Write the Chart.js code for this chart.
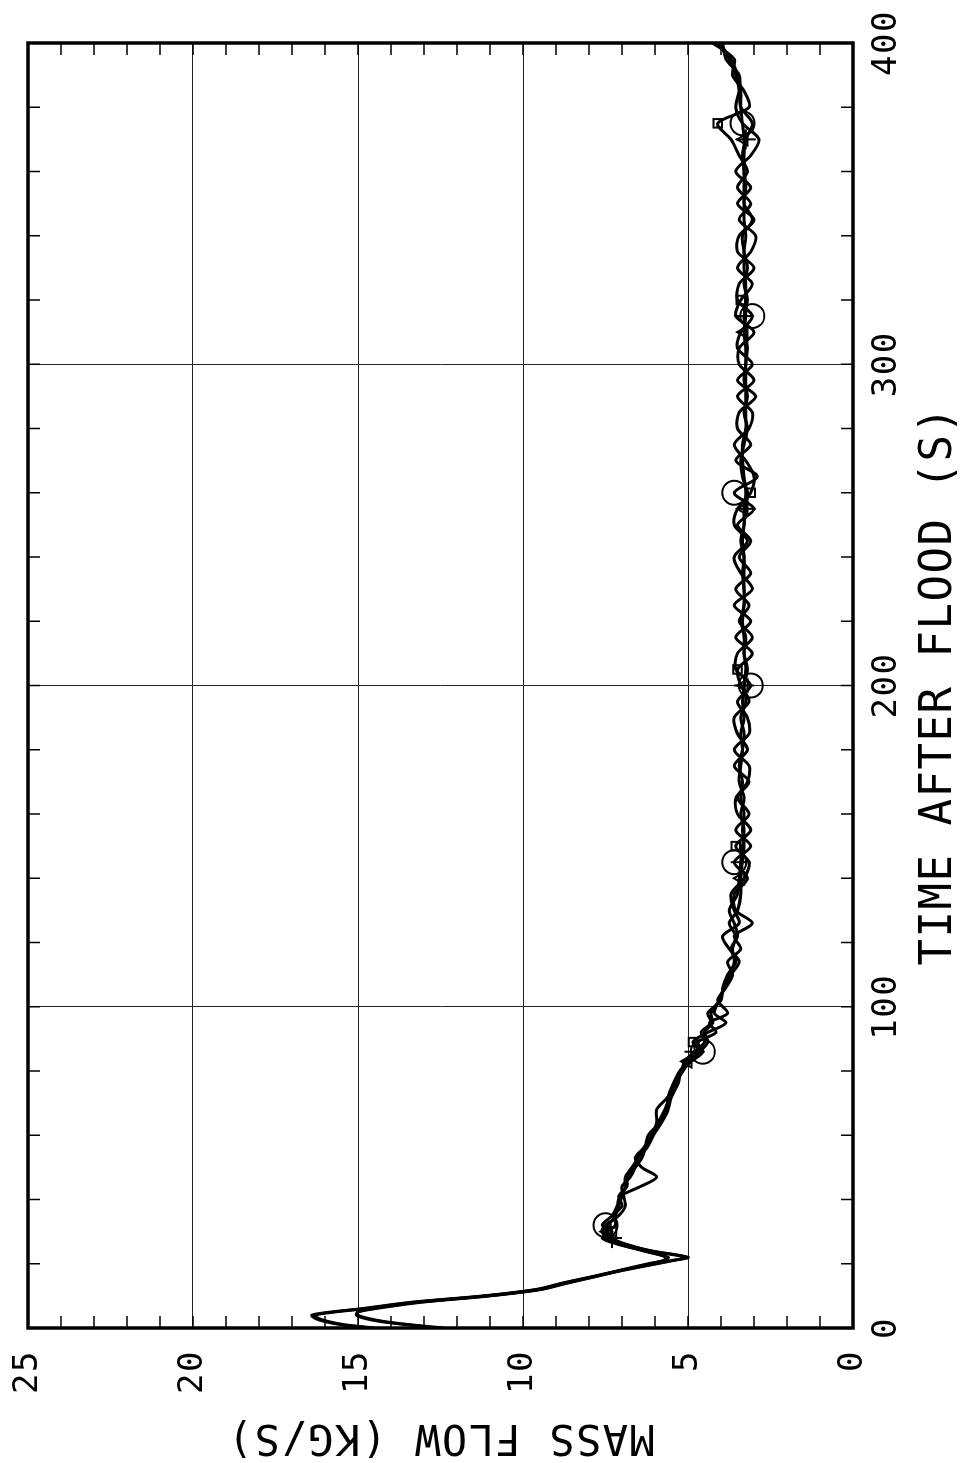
<!DOCTYPE html>
<html>
<head>
<meta charset="utf-8">
<script src="https://cdn.jsdelivr.net/npm/chart.js@4.4.1/dist/chart.umd.min.js"></script>
<style>
  html, body { margin: 0; padding: 0; background: #fff; overflow: hidden; }
  #wrap { position: absolute; left: 0; top: 0; width: 1463px; height: 962px;
          transform-origin: 0 0; transform: translate(0px, 1463px) rotate(-90deg); background:#fff; }
</style>
</head>
<body>
<div id="wrap"><canvas id="c" width="1463" height="962"></canvas></div>
<script>
// ---- data (time after flood, s) ----
const times = [0,1,2,3,4,5,6,8,10,12,14,16,18,20,21,22,24,26,28,30,32,35,38,41,44,47,50,53,56,60,64,68,72,76,80,83,86,89,92,95,98,102,106,110,114,118,122,126,130,
  135,140,145,150,155,160,165,170,175,180,185,190,195,200,205,210,215,220,225,230,235,240,245,250,255,260,265,270,275,280,285,290,295,300,305,310,315,320,325,330,335,340,345,350,355,360,365,370,375,380,385,390,395,400];

// mass flow (kg/s), four traces
const flowA = [14.6,15.5,16.0,16.3,16.4,15.8,14.9,13.4,11.2,9.6,8.8,7.9,7.0,6.0,5.5,5.0,6.1,6.9,7.3,7.5,7.4,7.2,7.1,7.0,6.9,6.9,6.7,6.5,6.3,6.1,5.9,5.7,5.55,5.35,5.2,5.1,4.8,4.5,4.6,4.3,4.4,4.0,3.95,3.8,3.55,3.7,3.5,3.6,3.75,
  3.5,3.45,3.4,3.35,3.3,3.4,3.3,3.45,3.4,3.35,
  3.4,3.3,3.35,3.3,3.2,3.3,3.25,3.4,3.3,3.3,
  3.35,3.3,3.4,3.3,3.25,3.2,3.35,3.4,3.3,3.2,
  3.3,3.2,3.3,3.25,3.2,3.25,3.3,3.2,3.3,3.2,
  3.3,3.35,3.05,3.3,3.25,3.3,3.35,3.25,3.05,3.4,
  3.45,3.55,3.75,4.1];
const flowB = [12.4,13.4,14.2,14.7,15.0,15.0,14.6,13.2,11.1,9.5,8.7,7.85,7.05,6.2,5.75,5.65,6.3,7.1,7.6,7.3,7.6,7.3,7.15,7.05,6.45,5.95,6.4,6.6,6.35,6.1,5.95,5.95,5.6,5.4,5.15,4.95,4.6,4.85,4.4,3.85,4.2,4.05,3.9,3.7,3.45,3.75,3.95,3.45,3.6,
  3.7,3.3,3.15,3.55,3.1,3.5,3.55,3.15,3.6,3.2,
  3.5,3.6,3.15,3.4,3.5,3.05,3.55,3.1,3.6,3.05,
  3.4,3.6,3.2,3.6,3.5,3.1,3.0,3.25,3.6,3.15,
  3.05,3.5,3.0,3.45,3.45,3.0,3.55,3.4,3.05,3.5,
  3.1,2.95,3.45,3.1,3.5,3.2,3.45,3.7,4.1,3.15,
  3.3,3.65,3.6,4.25];
const flowC = [14.5,15.4,15.9,16.2,16.3,15.7,14.8,13.3,11.1,9.55,8.75,7.85,6.95,5.95,5.45,5.05,6.15,6.85,7.4,7.6,7.5,7.1,6.9,6.95,7.0,6.75,6.6,6.55,6.25,6.05,5.8,5.6,5.5,5.3,5.2,4.9,4.55,4.7,4.15,4.35,3.8,4.1,3.85,3.65,3.8,3.4,3.6,3.05,3.55,
  3.6,3.2,3.6,3.1,3.55,3.15,3.5,3.2,3.15,3.6,
  3.15,3.2,3.5,3.1,3.55,3.5,3.05,3.45,3.15,3.55,
  3.1,3.45,3.1,3.5,3.0,3.6,2.9,3.55,3.1,3.5,
  3.45,2.95,3.5,3.05,3.5,3.4,3.05,3.5,3.45,3.0,
  3.5,3.45,3.0,3.5,3.1,3.55,3.1,2.85,3.35,3.55,
  3.45,3.45,3.85,3.95];
const flowD = [12.6,13.5,14.3,14.8,15.05,15.0,14.5,13.1,11.0,9.45,8.65,7.8,7.0,6.15,5.7,5.6,6.35,7.05,7.55,7.45,7.2,7.25,7.0,7.1,6.85,6.85,6.6,6.4,6.3,6.2,5.85,5.65,5.6,5.45,5.25,5.0,4.65,4.4,4.5,4.25,4.3,4.05,3.9,3.75,3.6,3.65,3.55,3.75,3.5,
  3.4,3.4,3.35,3.3,3.35,3.3,3.4,3.35,3.45,3.35,
  3.3,3.4,3.25,3.3,3.25,3.3,3.3,3.35,3.3,3.3,
  3.3,3.3,3.35,3.3,3.3,3.25,3.3,3.35,3.35,3.25,
  3.25,3.25,3.25,3.25,3.25,3.3,3.25,3.25,3.25,3.3,
  3.3,3.25,3.3,3.3,3.3,3.3,3.3,3.3,3.35,3.4,
  3.4,3.5,3.7,4.05];

// times at which each trace carries its plot symbol
const markA = [28, 86, 145, 200, 255, 315, 370];
const markB = [30, 89, 150, 205, 260, 320, 375];
const markC = [32, 86, 145, 200, 260, 315, 375];
const markD = [30, 83, 140, 200, 255, 310, 370];

const timeTicks = [0, 100, 200, 300, 400];
const flowTicks = [0, 5, 10, 15, 20, 25];
const timeMinor = 20;
const flowMinor = 1;

const FONT = "'DejaVu Sans Mono', 'Liberation Mono', monospace";

function series(vals, marks, style, radius) {
  return {
    data: times.map((t, i) => ({ x: t, y: vals[i] })),
    borderColor: '#000',
    borderWidth: 3,
    tension: 0.3,
    fill: false,
    pointStyle: style,
    pointRadius: ctx => marks.includes(times[ctx.dataIndex]) ? radius : 0,
    pointBorderColor: '#000',
    pointBackgroundColor: 'rgba(0,0,0,0)',
    pointBorderWidth: 2
  };
}

const spacing = {
  id: 'spacing',
  beforeDraw(chart) { chart.ctx.letterSpacing = '1.5px'; }
};

const frameTicks = {
  id: 'frameTicks',
  afterDraw(chart) {
    const { ctx, chartArea: a, scales: { x, y } } = chart;
    ctx.save();
    ctx.strokeStyle = '#000';
    ctx.lineWidth = 1.5;
    const L = 12;
    ctx.beginPath();
    for (let t = timeTicks[0]; t <= timeTicks[timeTicks.length - 1]; t += timeMinor) {
      const p = x.getPixelForValue(t);
      ctx.moveTo(p, a.bottom); ctx.lineTo(p, a.bottom - L);
      ctx.moveTo(p, a.top); ctx.lineTo(p, a.top + L);
    }
    for (let v = flowTicks[0]; v <= flowTicks[flowTicks.length - 1]; v += flowMinor) {
      const p = y.getPixelForValue(v);
      ctx.moveTo(a.left, p); ctx.lineTo(a.left + L, p);
      ctx.moveTo(a.right, p); ctx.lineTo(a.right - L, p);
    }
    ctx.stroke();
    ctx.lineWidth = 3.5;
    ctx.strokeRect(a.left, a.top, a.right - a.left, a.bottom - a.top);
    ctx.restore();
  }
};

new Chart(document.getElementById('c'), {
  type: 'line',
  data: {
    datasets: [
      series(flowA, markA, 'cross', 10),
      series(flowB, markB, 'rect', 6),
      series(flowC, markC, 'circle', 12),
      series(flowD, markD, 'triangle', 7)
    ]
  },
  options: {
    responsive: false,
    devicePixelRatio: 1,
    animation: false,
    layout: { padding: { left: 0, right: 43, top: 28, bottom: 0 } },
    plugins: { legend: { display: false }, tooltip: { enabled: false } },
    scales: {
      x: {
        type: 'linear',
        min: timeTicks[0], max: timeTicks[timeTicks.length - 1],
        afterBuildTicks: s => { s.ticks = timeTicks.map(v => ({ value: v })); },
        afterFit: s => { s.height = 109; s.paddingLeft = 0; s.paddingRight = 0; },
        grid: { color: '#222', lineWidth: 1, drawTicks: false },
        border: { display: false },
        ticks: { color: '#000', font: { family: FONT, size: 34 }, padding: 14, maxRotation: 0, autoSkip: false },
        title: { display: true, text: 'TIME AFTER FLOOD (S)', color: '#000',
                 font: { family: FONT, size: 44, lineHeight: 1 }, padding: { top: 0, bottom: 0 } }
      },
      y: {
        min: flowTicks[0], max: flowTicks[flowTicks.length - 1],
        afterBuildTicks: s => { s.ticks = flowTicks.map(v => ({ value: v })); },
        afterFit: s => { s.width = 135; s.paddingTop = 0; s.paddingBottom = 0; },
        grid: { color: '#222', lineWidth: 1, drawTicks: false },
        border: { display: false },
        ticks: { color: '#000', font: { family: FONT, size: 34 }, padding: 22, autoSkip: false },
        title: { display: true, text: 'MASS FLOW (KG/S)', color: '#000',
                 font: { family: FONT, size: 42, lineHeight: 1 }, padding: { top: 6, bottom: 0 } }
      }
    }
  },
  plugins: [spacing, frameTicks]
});
</script>
</body>
</html>
